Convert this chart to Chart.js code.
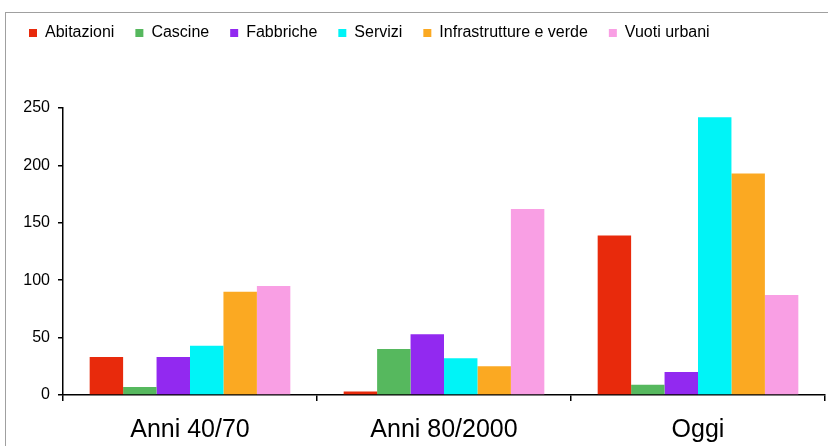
<!DOCTYPE html>
<html>
<head>
<meta charset="utf-8">
<script src="https://cdn.jsdelivr.net/npm/chart.js@4.4.1/dist/chart.umd.min.js"></script>
<style>
  html, body { margin: 0; padding: 0; background: #fff; overflow: hidden; }
  #wrap { position: relative; width: 828px; height: 446px; overflow: hidden; }
  #frame { position: absolute; left: 5px; top: 12px; width: 900px; height: 600px; border: 1.5px solid #a0a0a0; box-sizing: border-box; }
  canvas { position: absolute; left: 0; top: 0; }
</style>
</head>
<body>
<div id="wrap">
  <div id="frame"></div>
  <canvas id="c" width="828" height="446"></canvas>
</div>
<script>
const categories = ['Anni 40/70', 'Anni 80/2000', 'Oggi'];
const seriesNames = ['Abitazioni', 'Cascine', 'Fabbriche', 'Servizi', 'Infrastrutture e verde', 'Vuoti urbani'];
const abitazioni = [33, 3, 139];
const cascine = [7, 40, 9];
const fabbriche = [33, 53, 20];
const servizi = [43, 32, 242];
const infrastrutture = [90, 25, 193];
const vuotiUrbani = [95, 162, 87];
const yTicks = [0, 50, 100, 150, 200, 250];

const colors = ['#e82a0c', '#56b85e', '#9229f0', '#00f4f7', '#fba922', '#f99fe4'];
const seriesValues = [abitazioni, cascine, fabbriche, servizi, infrastrutture, vuotiUrbani];

const FONT = 'Liberation Sans, Arial, Helvetica, sans-serif';

const layoutPlugin = {
  id: 'layoutFix',
  afterInit(chart) {
    const lg = chart.legend;
    if (lg) {
      const orig = lg.fit;
      lg.fit = function () { orig.call(this); this.height = 104; };
    }
  }
};

new Chart(document.getElementById('c'), {
  type: 'bar',
  data: {
    labels: categories,
    datasets: seriesNames.map((n, i) => ({
      label: n,
      data: seriesValues[i],
      backgroundColor: colors[i],
      borderWidth: 0,
      categoryPercentage: 0.79,
      barPercentage: 1.0
    }))
  },
  options: {
    responsive: false,
    animation: false,
    devicePixelRatio: 1,
    layout: { padding: { left: 8, right: 3, top: 4, bottom: 0 } },
    plugins: {
      legend: {
        position: 'top',
        align: 'start',
        labels: {
          boxWidth: 8,
          boxHeight: 8,
          padding: 21,
          color: '#000',
          font: { family: FONT, size: 16 }
        }
      },
      tooltip: { enabled: false }
    },
    scales: {
      x: {
        afterFit(s) { s.height = 51; },
        grid: { display: true, drawOnChartArea: false, drawTicks: true, tickLength: 6, offset: true, color: '#000', lineWidth: 1.5 },
        border: { display: true, color: '#000', width: 1.5 },
        ticks: { color: '#000', padding: 14, font: { family: FONT, size: 25 } }
      },
      y: {
        min: 0,
        max: 250,
        afterFit(s) { s.width = 55; },
        afterBuildTicks(s) { s.ticks = yTicks.map(v => ({ value: v })); },
        grid: { display: true, drawOnChartArea: false, drawTicks: true, tickLength: 5, color: '#000', lineWidth: 1.5 },
        border: { display: true, color: '#000', width: 1.5 },
        ticks: { color: '#000', padding: 8, font: { family: FONT, size: 16 } }
      }
    }
  },
  plugins: [layoutPlugin]
});
</script>
</body>
</html>
